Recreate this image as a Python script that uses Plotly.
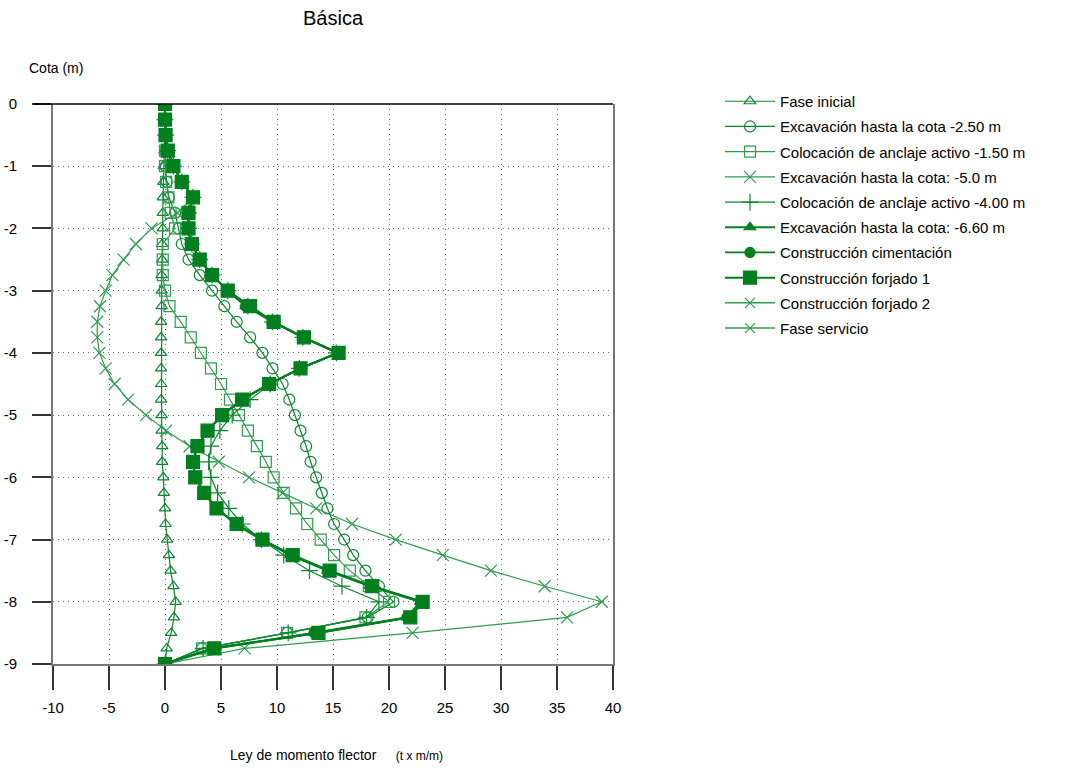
import plotly.graph_objects as go

# ---------------- data ----------------
cota = [0, -0.25, -0.5, -0.75, -1, -1.25, -1.5, -1.75, -2, -2.25, -2.5, -2.75,
        -3, -3.25, -3.5, -3.75, -4, -4.25, -4.5, -4.75, -5, -5.25, -5.5, -5.75,
        -6, -6.25, -6.5, -6.75, -7, -7.25, -7.5, -7.75, -8, -8.25, -8.5, -8.75, -9]

fase_inicial = [0, 0, 0, -0.05, -0.1, -0.15, -0.2, -0.2, -0.2, -0.25, -0.25, -0.3,
                -0.3, -0.3, -0.35, -0.35, -0.35, -0.35, -0.35, -0.35, -0.3, -0.3, -0.25, -0.25,
                -0.15, -0.1, 0.0, 0.05, 0.2, 0.35, 0.5, 0.75, 0.95, 0.8, 0.55, 0.15, 0]

exc_250 = [0, 0, 0, 0, 0.05, 0.15, 0.35, 0.9, 1.2, 1.5, 2.1, 3.1,
           4.2, 5.3, 6.4, 7.6, 8.7, 9.6, 10.5, 11.1, 11.6, 12.1, 12.6, 13.0,
           13.5, 14.0, 14.5, 15.1, 16.0, 16.8, 17.9, 19.1, 20.4, 18.1, 10.9, 3.3, 0]

anc_150 = [0, 0, 0, 0, 0, 0.1, 0.3, 0.5, 0.9, -0.2, -0.2, -0.2,
           0.0, 0.4, 1.4, 2.3, 3.2, 4.1, 5.0, 5.8, 6.6, 7.4, 8.2, 9.0,
           9.7, 10.6, 11.7, 12.7, 13.9, 15.1, 16.5, 18.2, 20.0, 17.9, 10.9, 3.3, 0]

exc_500 = [0, 0, 0.1, 0.3, 0.8, 1.5, 2.5, 1.1, -1.2, -2.6, -3.7, -4.7,
           -5.3, -5.8, -6.05, -6.05, -5.85, -5.3, -4.5, -3.3, -1.7, 0.1, 2.2, 4.8,
           7.5, 10.5, 13.5, 16.7, 20.6, 24.8, 29.1, 33.9, 39.0, 35.9, 22.1, 7.1, 0]

anc_400 = [0, 0, 0.05, 0.25, 0.75, 1.5, 2.5, 2.1, 2.1, 2.4, 3.1, 4.2,
           5.6, 7.4, 9.6, 12.3, 15.3, 12.0, 9.4, 7.6, 6.0, 4.9, 4.1, 3.9,
           4.1, 4.7, 5.7, 6.9, 8.6, 10.6, 12.9, 15.8, 19.1, 18.0, 11.0, 3.4, 0]

exc_660 = [0, 0, 0.05, 0.25, 0.75, 1.5, 2.5, 2.1, 2.1, 2.4, 3.1, 4.2,
           5.6, 7.2, 9.6, 12.3, 15.4, 12.1, 9.3, 6.9, 5.1, 3.8, 2.9, 2.5,
           2.7, 3.5, 4.6, 6.3, 8.6, 11.2, 14.5, 18.3, 22.8, 21.6, 13.3, 4.2, 0]

cimentacion = [0, 0, 0.05, 0.25, 0.75, 1.5, 2.5, 2.1, 2.1, 2.4, 3.1, 4.2,
               5.6, 7.2, 9.6, 12.3, 15.4, 12.1, 9.3, 6.9, 5.1, 3.8, 2.9, 2.5,
               2.7, 3.5, 4.6, 6.3, 8.6, 11.2, 14.5, 18.3, 22.8, 21.6, 13.3, 4.2, 0]

forjado_1 = [0, 0, 0.05, 0.25, 0.75, 1.5, 2.5, 2.1, 2.1, 2.4, 3.1, 4.2,
             5.6, 7.6, 9.7, 12.4, 15.5, 12.1, 9.3, 6.9, 5.1, 3.8, 2.9, 2.5,
             2.7, 3.5, 4.6, 6.4, 8.7, 11.4, 14.7, 18.5, 23.0, 21.9, 13.7, 4.4, 0]

forjado_2 = [0, 0, 0.05, 0.25, 0.75, 1.5, 2.5, 2.1, 2.1, 2.4, 3.1, 4.2,
             5.6, 7.6, 9.7, 12.4, 15.5, 12.1, 9.3, 6.9, 5.1, 3.8, 2.9, 2.5,
             2.7, 3.5, 4.6, 6.4, 8.7, 11.4, 14.7, 18.5, 23.0, 21.9, 13.7, 4.4, 0]

servicio = [0, 0, 0.05, 0.25, 0.75, 1.5, 2.5, 2.1, 2.1, 2.4, 3.1, 4.2,
            5.6, 7.6, 9.7, 12.4, 15.5, 12.1, 9.3, 6.9, 5.1, 3.8, 2.9, 2.5,
            2.7, 3.5, 4.6, 6.4, 8.7, 11.4, 14.7, 18.5, 23.0, 21.9, 13.7, 4.4, 0]

series_names = [
    "Fase inicial",
    "Excavación hasta la cota -2.50 m",
    "Colocación de anclaje activo -1.50 m",
    "Excavación hasta la cota: -5.0 m",
    "Colocación de anclaje activo -4.00 m",
    "Excavación hasta la cota: -6.60 m",
    "Construcción cimentación",
    "Construcción forjado 1",
    "Construcción forjado 2",
    "Fase servicio",
]

x_tickvals = [-10, -5, 0, 5, 10, 15, 20, 25, 30, 35, 40]
x_ticktext = ["-10", "-5", "0", "5", "10", "15", "20", "25", "30", "35", "40"]
y_tickvals = [0, -1, -2, -3, -4, -5, -6, -7, -8, -9]
y_ticktext = ["0", "-1", "-2", "-3", "-4", "-5", "-6", "-7", "-8", "-9"]

# ---------------- styles ----------------
DARK = "#007F1F"
MID = "#0B872D"
LIGHT = "#2E9C4E"
FONT = "Arial, Liberation Sans, sans-serif"

styles = [
    (fase_inicial, 0, "triangle-up-open", 10, MID, 1.2),
    (exc_250, 1, "circle-open", 11, MID, 1.2),
    (anc_150, 2, "square-open", 11, LIGHT, 1.2),
    (exc_500, 3, "x-thin-open", 12, LIGHT, 1.2),
    (anc_400, 4, "cross-thin-open", 12, MID, 1.2),
    (forjado_2, 8, "x-thin-open", 10, LIGHT, 1.5),
    (servicio, 9, "x-thin-open", 10, LIGHT, 1.5),
    (exc_660, 5, "triangle-up", 10, DARK, 1.8),
    (cimentacion, 6, "circle", 10, DARK, 1.8),
    (forjado_1, 7, "square", 13, DARK, 2.0),
]

fig = go.Figure()
for vals, idx, sym, size, col, lw in styles:
    is_open = "open" in sym
    fig.add_trace(go.Scatter(
        x=vals, y=cota, mode="lines+markers", name=series_names[idx],
        legendrank=idx + 1, legendgroup="g%d" % idx,
        line=dict(color=col, width=lw),
        marker=dict(symbol=sym, size=size, color=col if is_open else DARK,
                    line=dict(color=col if is_open else DARK, width=1.2)),
    ))

# plot area: x px 53..613, y px 104..664
L, R, T, B = 53, 613, 104, 664
W, H = 1065, 768
pw, ph = R - L, B - T

GRID = dict(showgrid=True, gridcolor="#666", griddash="1px,4px", gridwidth=1,
            zeroline=False, showline=True, linecolor="#777", linewidth=2,
            ticks="outside", tickwidth=1.5, tickcolor="#333",
            tickfont=dict(size=15, family=FONT), automargin=False)

fig.update_layout(
    width=W, height=H,
    margin=dict(l=L, r=W - R, t=T, b=H - B, pad=0, autoexpand=False),
    paper_bgcolor="white", plot_bgcolor="white",
    font=dict(family=FONT, size=14, color="black"),
    title=dict(text="Básica", x=333 / W, xanchor="center", xref="container",
               y=1 - 18 / H, yanchor="middle", yref="container",
               font=dict(size=20, family=FONT)),
    showlegend=True,
    legend=dict(xref="container", yref="container",
                x=720 / W, xanchor="left", y=1 - 85 / H, yanchor="top",
                font=dict(size=15, family=FONT), tracegroupgap=2.7,
                bgcolor="rgba(0,0,0,0)", borderwidth=0, itemwidth=50),
    xaxis=dict(range=[-10, 40], tickvals=x_tickvals, ticktext=x_ticktext,
               ticklen=24, ticklabelstandoff=5, **GRID),
    yaxis=dict(range=[-9, 0], tickvals=y_tickvals, ticktext=y_ticktext,
               ticklen=19, ticklabelstandoff=12, mirror=True, **GRID),
)

# top black border line extending over the 0 tick
fig.add_shape(type="line", xref="paper", yref="paper",
              x0=(34 - L) / pw, x1=1, y0=1, y1=1,
              line=dict(color="black", width=1.5))

fig.add_annotation(text="Cota (m)", xref="paper", yref="paper",
                   x=(27 - L) / pw, xanchor="left", y=(B - 68) / ph, yanchor="middle",
                   showarrow=False, font=dict(size=14, family=FONT))
fig.add_annotation(text="Ley de momento flector&nbsp;&nbsp;&nbsp;&nbsp;&nbsp;<span style='font-size:12px'>(t x m/m)</span>",
                   xref="paper", yref="paper",
                   x=(228 - L) / pw, xanchor="left", y=(B - 755) / ph, yanchor="middle",
                   showarrow=False, font=dict(size=14, family=FONT))

fig.write_html("out.html", config={"displayModeBar": False},
               post_script="document.body.style.margin='0';document.body.style.overflow='hidden';")
